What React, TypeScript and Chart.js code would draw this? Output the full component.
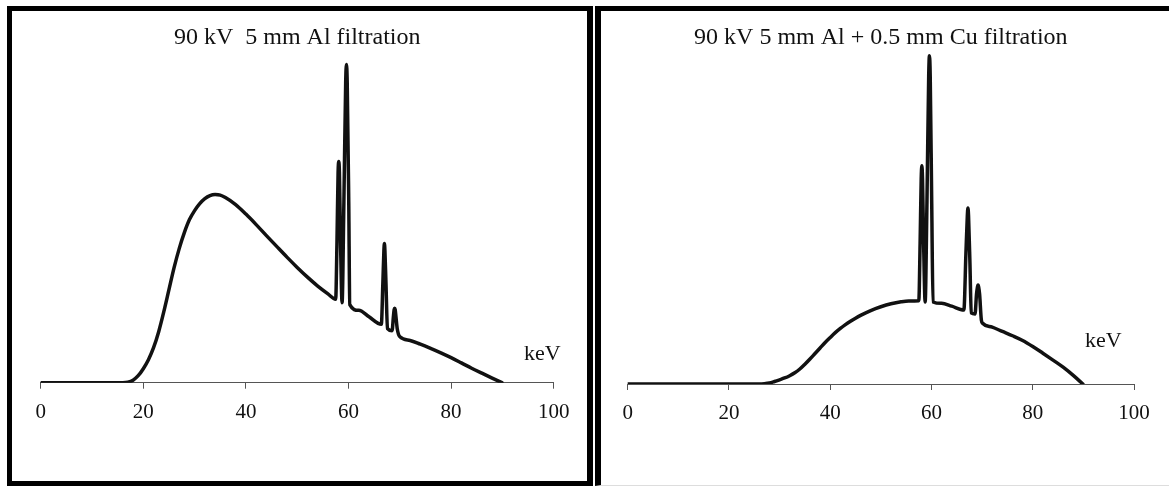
import { useEffect, useRef } from "react";
import Chart from "chart.js/auto";

// ---------- data (arbitrary intensity units) ----------
const TICK_VALUES = [0, 20, 40, 60, 80, 100];
const AXIS_UNIT = "keV";

const LEFT_TITLE = "90 kV  5 mm Al filtration";
const LEFT_KEV = [
  0, 10, 16, 17, 18, 19, 20, 21, 22, 23, 24, 25, 26, 27, 28, 29, 30, 31, 32, 33, 34, 35, 36, 38,
  40, 42, 44, 46, 48, 50, 52, 54, 56, 57.5,
  57.75, 57.97, 58.1, 58.23, 58.45, 58.75,
  59.1, 59.45, 59.6, 59.75, 60.05, 60.25,
  62, 64, 66.4,
  66.7, 66.9, 67.0, 67.1, 67.3, 67.6,
  68.5, 68.75, 68.9, 69.0, 69.1, 69.25, 69.5, 70.0,
  72, 74, 76, 78, 80, 82, 84, 86, 88, 89.9,
];
const LEFT_INTENSITY = [
  0, 0, 0, 0.5, 2.5, 7, 14, 23, 35, 51, 71, 93, 115, 134, 150, 163, 172, 179, 184, 187, 188, 187.5, 185, 178,
  168.5, 158, 147, 136.2, 125.5, 115.2, 105.5, 96.6, 88.8, 83.5,
  140, 210, 221, 210, 140, 80,
  180, 300, 318, 300, 180, 78,
  72.3, 65.9, 58.3,
  100, 132, 139, 132, 100, 54,
  52, 66, 73, 74.5, 73, 66, 54, 46,
  42.2, 38.5, 34.3, 29.8, 25, 19.8, 14.5, 9.5, 4.6, 0,
];

const RIGHT_TITLE = "90 kV 5 mm Al + 0.5 mm Cu filtration";
const RIGHT_KEV = [
  0, 20, 26, 27, 28, 29, 30, 31, 32, 33, 34, 35, 36, 37, 38, 39, 40, 41, 42, 43, 44, 45, 46, 48, 50, 52, 54, 55.5, 57.5,
  57.75, 57.97, 58.1, 58.23, 58.45, 58.75,
  59.1, 59.45, 59.6, 59.75, 60.05, 60.3,
  62, 64, 66.4,
  66.8, 67.08, 67.2, 67.32, 67.6, 67.85,
  68.6, 68.9, 69.08, 69.2, 69.32, 69.5, 69.85, 70.1,
  72, 74, 76, 78, 80, 82, 84, 86, 88, 89.9,
];
const RIGHT_INTENSITY = [
  0, 0, 0, 0.3, 1, 2.5, 4.2, 6, 8.3, 11.2, 15, 19.8, 25, 30.5, 36, 41.5, 46.5, 51.3, 55.5, 59.3, 62.7, 65.8, 68.6, 73.4, 77.2, 80.2, 82.2, 83, 83.3,
  140, 205, 218, 205, 140, 82,
  180, 308, 328, 308, 180, 82,
  80.6, 77.8, 74,
  130, 168, 176, 168, 120, 71,
  70, 90, 97, 99, 97, 90, 64, 60.7,
  56.8, 52.5, 48.2, 43.5, 37.5, 30.8, 23.9, 16.8, 8.6, 0,
];

const SERIF = "'Liberation Serif', 'DejaVu Serif', serif";

const unitLabelPlugin = {
  id: "unitLabel",
  afterDraw(chart: any, _args: any, opts: any) {
    if (!opts || !opts.text) return;
    const { ctx, scales } = chart;
    const x = scales.x.getPixelForValue(opts.x);
    const y = scales.y.getPixelForValue(opts.y);
    ctx.save();
    ctx.font = `22px ${SERIF}`;
    ctx.fillStyle = "#111";
    ctx.textAlign = "left";
    ctx.textBaseline = "alphabetic";
    ctx.fillText(opts.text, x, y);
    ctx.restore();
  },
};

type SpectrumProps = {
  kev: number[];
  intensity: number[];
  title: string;
  width: number;
  height: number;
  padLeft: number;
  padRight: number;
  axisHeight: number;
  yMax: number;
  unitX: number;
  unitY: number;
};

function Spectrum(props: SpectrumProps) {
  const ref = useRef<HTMLCanvasElement | null>(null);
  useEffect(() => {
    if (!ref.current) return;
    const points = props.kev.map((k, i) => ({ x: k, y: props.intensity[i] }));
    const chart = new Chart(ref.current, {
      type: "line",
      data: {
        datasets: [
          {
            data: points,
            borderColor: "#111",
            borderWidth: 3.5,
            pointRadius: 0,
            cubicInterpolationMode: "monotone",
            tension: 0.4,
            fill: false,
            borderJoinStyle: "round",
            borderCapStyle: "round",
          },
        ],
      },
      options: {
        responsive: false,
        animation: false,
        devicePixelRatio: 1,
        layout: {
          padding: { left: props.padLeft, right: props.padRight, top: 0, bottom: 0 },
        },
        plugins: {
          legend: { display: false },
          tooltip: { enabled: false },
          title: {
            display: true,
            text: props.title,
            color: "#111",
            font: { family: SERIF, size: 24, weight: "normal", lineHeight: 1.2 },
            padding: { top: 12, bottom: 0 },
          },
          unitLabel: { text: AXIS_UNIT, x: props.unitX, y: props.unitY },
        } as any,
        scales: {
          x: {
            type: "linear",
            min: 0,
            max: 100,
            afterBuildTicks: (scale: any) => {
              scale.ticks = TICK_VALUES.map((v) => ({ value: v }));
            },
            afterFit: (scale: any) => {
              scale.height = props.axisHeight;
            },
            grid: {
              display: true,
              drawOnChartArea: false,
              drawTicks: true,
              tickLength: 6,
              color: "#555",
            },
            border: { display: true, color: "#555", width: 1 },
            ticks: {
              color: "#111",
              padding: 11,
              maxRotation: 0,
              autoSkip: false,
              font: { family: SERIF, size: 21 },
            },
          },
          y: {
            display: false,
            min: 0,
            max: props.yMax,
          },
        },
      },
      plugins: [unitLabelPlugin],
    } as any);
    return () => chart.destroy();
  }, []);
  return (
    <canvas
      ref={ref}
      width={props.width}
      height={props.height}
      style={{ display: "block", width: props.width, height: props.height }}
    />
  );
}

export default function App() {
  return (
    <div
      style={{
        position: "fixed",
        left: 0,
        top: 0,
        width: 1169,
        height: 486,
        background: "#fff",
        overflow: "hidden",
      }}
    >
      <div
        style={{
          position: "absolute",
          left: 7,
          top: 6,
          width: 575,
          height: 470,
          borderLeft: "5px solid #000",
          borderTop: "5px solid #000",
          borderRight: "6px solid #000",
          borderBottom: "5px solid #000",
        }}
      >
        <Spectrum
          kev={LEFT_KEV}
          intensity={LEFT_INTENSITY}
          title={LEFT_TITLE}
          width={575}
          height={470}
          padLeft={28.7}
          padRight={33.3}
          axisHeight={98.3}
          yMax={330.7}
          unitX={94.2}
          unitY={22.7}
        />
      </div>
      <div
        style={{
          position: "absolute",
          left: 595,
          top: 6,
          width: 568,
          height: 474,
          borderLeft: "6px solid #000",
          borderTop: "5px solid #000",
          borderBottom: "1px solid #ddd",
        }}
      >
        <Spectrum
          kev={RIGHT_KEV}
          intensity={RIGHT_INTENSITY}
          title={RIGHT_TITLE}
          width={568}
          height={474}
          padLeft={26.7}
          padRight={35}
          axisHeight={101}
          yMax={332}
          unitX={90.3}
          unitY={37}
        />
      </div>
    </div>
  );
}
